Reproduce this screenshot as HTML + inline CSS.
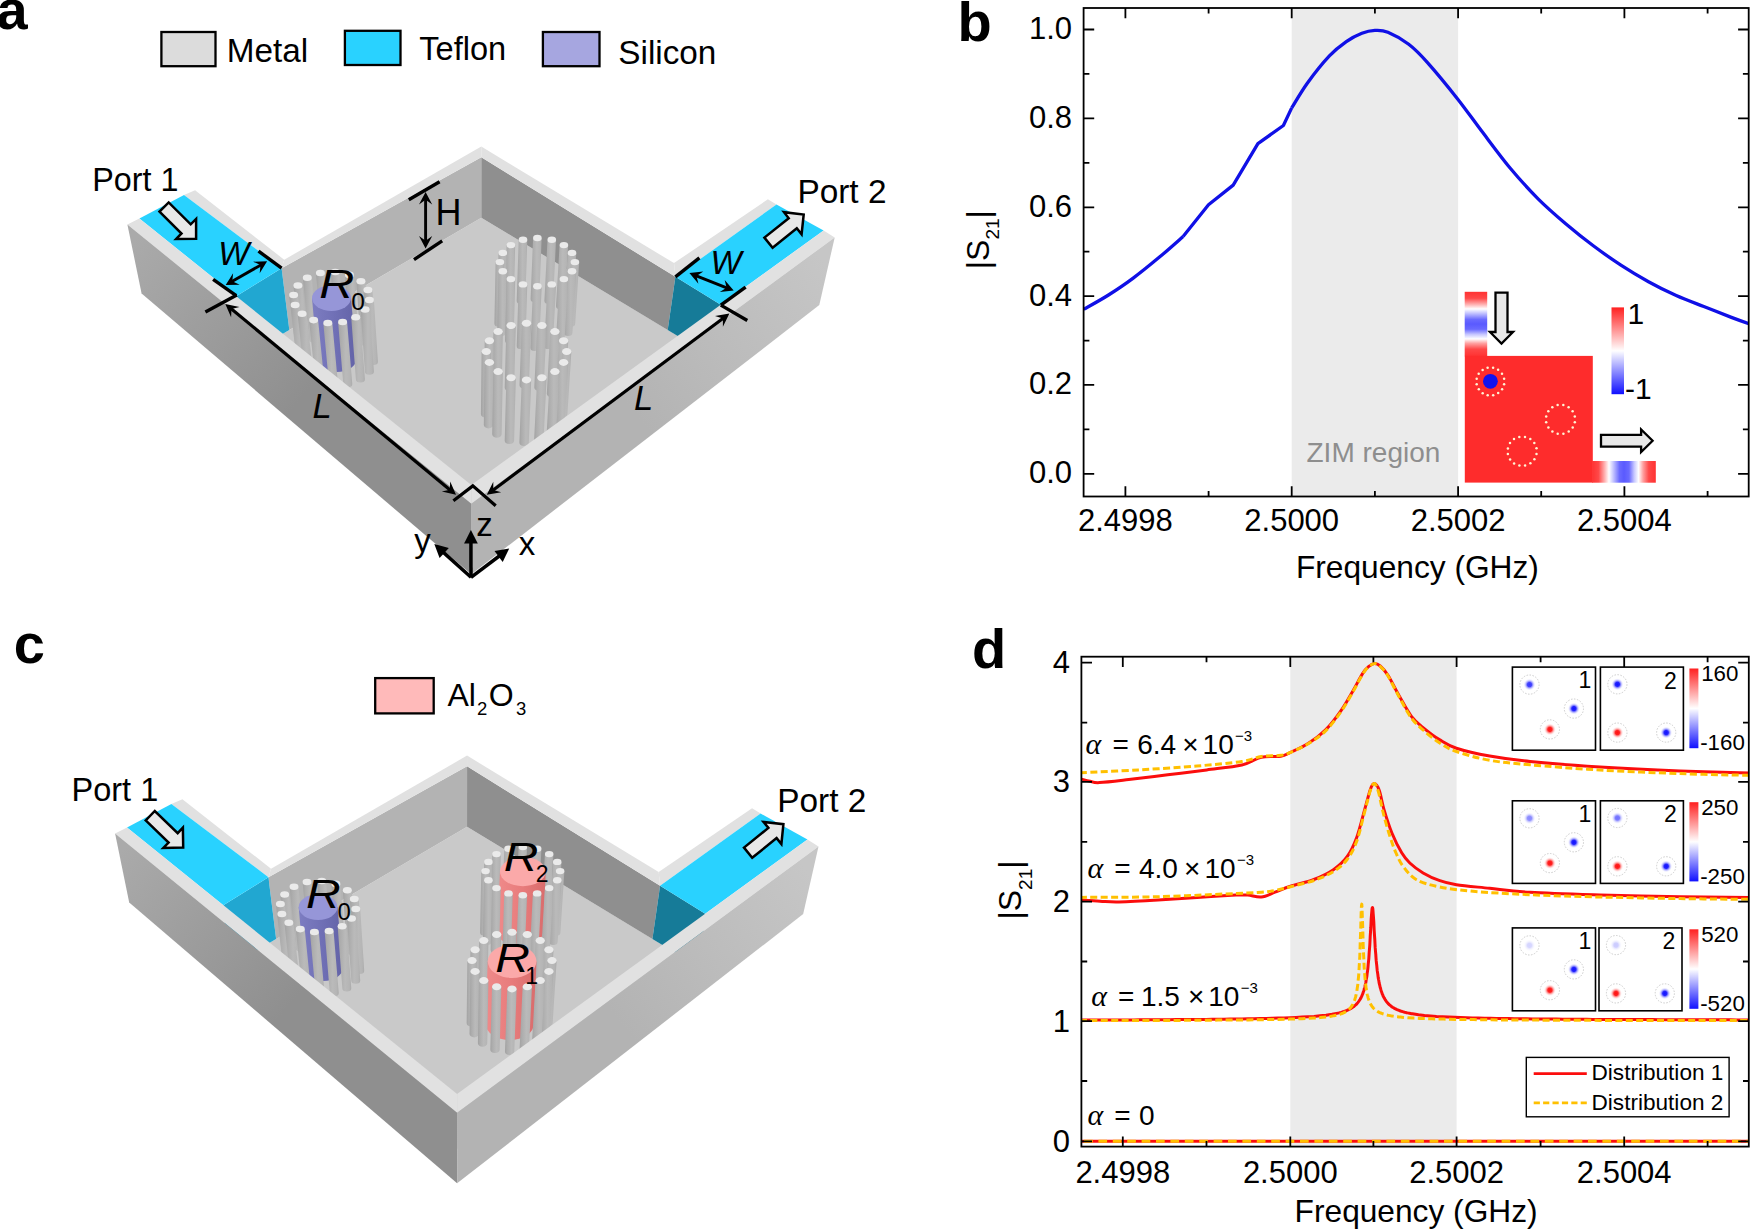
<!DOCTYPE html>
<html><head><meta charset="utf-8"><title>Figure</title>
<style>
html,body{margin:0;padding:0;background:#fff;overflow:hidden;width:1751px;height:1231px}
svg{display:block}
text{font-family:"Liberation Sans",Arial,sans-serif;fill:#000}
.it{font-style:italic}
.ser{font-family:"Liberation Serif","DejaVu Serif",serif;font-style:italic}
</style></head><body>
<svg width="1751" height="1231" viewBox="0 0 1751 1231">
<defs>
<linearGradient id="gm" x1="0" x2="1" y1="0" y2="0"><stop offset="0" stop-color="#a2a2a2"/><stop offset="0.2" stop-color="#adadad"/><stop offset="0.55" stop-color="#bababa"/><stop offset="0.85" stop-color="#b5b5b5"/><stop offset="1" stop-color="#ababab"/></linearGradient>
<linearGradient id="gs" x1="0" x2="1" y1="0" y2="0"><stop offset="0" stop-color="#7d7dc1"/><stop offset="0.5" stop-color="#7070b6"/><stop offset="1" stop-color="#6363a7"/></linearGradient>
<linearGradient id="gp" x1="0" x2="1" y1="0" y2="0"><stop offset="0" stop-color="#ef8a8a"/><stop offset="0.5" stop-color="#e87c7c"/><stop offset="1" stop-color="#d96c6c"/></linearGradient>
<linearGradient id="gl" gradientUnits="userSpaceOnUse" x1="127" y1="250" x2="300" y2="400"><stop offset="0" stop-color="#aaaaaa"/><stop offset="1" stop-color="#8f8f8f"/></linearGradient>
<linearGradient id="gr" gradientUnits="userSpaceOnUse" x1="640" y1="420" x2="830" y2="270"><stop offset="0" stop-color="#b3b3b3"/><stop offset="1" stop-color="#c6c6c6"/></linearGradient>
<linearGradient id="cb" x1="0" x2="0" y1="0" y2="1"><stop offset="0" stop-color="#ff2020"/><stop offset="0.5" stop-color="#ffffff"/><stop offset="1" stop-color="#1010ff"/></linearGradient>
<linearGradient id="p1" x1="0" x2="0" y1="0" y2="1"><stop offset="0" stop-color="#ff3232"/><stop offset="0.1" stop-color="#ff4848"/><stop offset="0.19" stop-color="#ffaaaa"/><stop offset="0.265" stop-color="#ffffff"/><stop offset="0.33" stop-color="#c6c6ff"/><stop offset="0.43" stop-color="#6a6aff"/><stop offset="0.5" stop-color="#5a5aff"/><stop offset="0.58" stop-color="#6a6aff"/><stop offset="0.66" stop-color="#c6c6ff"/><stop offset="0.73" stop-color="#ffffff"/><stop offset="0.80" stop-color="#ffa0a0"/><stop offset="0.89" stop-color="#ff4848"/><stop offset="1" stop-color="#ff3232"/></linearGradient>
<linearGradient id="p2" x1="0" x2="1" y1="0" y2="0"><stop offset="0" stop-color="#ff3232"/><stop offset="0.1" stop-color="#ff4848"/><stop offset="0.19" stop-color="#ffaaaa"/><stop offset="0.265" stop-color="#ffffff"/><stop offset="0.33" stop-color="#c6c6ff"/><stop offset="0.43" stop-color="#6a6aff"/><stop offset="0.5" stop-color="#5a5aff"/><stop offset="0.58" stop-color="#6a6aff"/><stop offset="0.66" stop-color="#c6c6ff"/><stop offset="0.73" stop-color="#ffffff"/><stop offset="0.80" stop-color="#ffa0a0"/><stop offset="0.89" stop-color="#ff4848"/><stop offset="1" stop-color="#ff3232"/></linearGradient>
<radialGradient id="rb"><stop offset="0" stop-color="#1010ff"/><stop offset="0.35" stop-color="#2424ff"/><stop offset="1" stop-color="#ffffff" stop-opacity="0"/></radialGradient>
<radialGradient id="rr"><stop offset="0" stop-color="#ff1010"/><stop offset="0.35" stop-color="#ff2424"/><stop offset="1" stop-color="#ffffff" stop-opacity="0"/></radialGradient>
</defs>
<rect width="1751" height="1231" fill="#fff"/>

<g id="panel-a">
<polygon points="481.3,217.7 241.0,358.3 471.3,540.0 716.0,359.0" fill="#c9c9c9"/>
<polygon points="281.6,268.2 481.3,157.3 481.3,217.7 289.3,330.0" fill="#b3b3b3"/>
<polygon points="481.3,157.3 675.4,276.8 667.7,329.9 481.3,217.7" fill="#8f8f8f"/>
<polygon points="236.2,296.2 281.6,268.2 289.3,330.0 241.0,358.3" fill="#21a7d1"/>
<polygon points="675.4,276.8 720.8,304.7 716.0,359.0 667.7,329.9" fill="#167b98"/>
<polygon points="195.1,190.3 184.0,194.9 281.6,268.2 284.2,259.7" fill="#e1e1e1"/>
<polygon points="284.2,259.7 281.6,268.2 481.3,157.3 481.3,146.6" fill="#e1e1e1"/>
<polygon points="481.3,146.6 481.3,157.3 675.4,276.8 674.0,263.1" fill="#e1e1e1"/>
<polygon points="674.0,263.1 675.4,276.8 776.5,204.5 767.9,199.3" fill="#e1e1e1"/>
<polygon points="139.4,218.5 184.0,194.9 281.6,268.2 236.2,296.2" fill="#29d2ff"/>
<polygon points="675.4,276.8 776.5,204.5 823.6,230.5 720.8,304.7" fill="#29d2ff"/>
<path d="M533.1,238.0 L530.6,299.0 A4.3,3.2 0 0 0 539.2,299.0 L541.7,238.0 Z" fill="url(#gm)"/><ellipse cx="537.4" cy="238.0" rx="4.3" ry="3.2" fill="#eaeaea"/>
<path d="M547.5,239.8 L544.4,300.8 A4.3,3.2 0 0 0 553.0,300.8 L556.1,239.8 Z" fill="url(#gm)"/><ellipse cx="551.8" cy="239.8" rx="4.3" ry="3.2" fill="#eaeaea"/>
<path d="M518.7,239.8 L516.7,300.8 A4.3,3.2 0 0 0 525.3,300.8 L527.3,239.8 Z" fill="url(#gm)"/><ellipse cx="523.0" cy="239.8" rx="4.3" ry="3.2" fill="#eaeaea"/>
<path d="M559.6,245.1 L556.0,306.1 A4.3,3.2 0 0 0 564.6,306.1 L568.2,245.1 Z" fill="url(#gm)"/><ellipse cx="563.9" cy="245.1" rx="4.3" ry="3.2" fill="#eaeaea"/>
<path d="M506.6,245.1 L505.0,306.1 A4.3,3.2 0 0 0 513.6,306.1 L515.2,245.1 Z" fill="url(#gm)"/><ellipse cx="510.9" cy="245.1" rx="4.3" ry="3.2" fill="#eaeaea"/>
<path d="M567.7,252.9 L563.8,314.0 A4.3,3.2 0 0 0 572.4,314.0 L576.3,252.9 Z" fill="url(#gm)"/><ellipse cx="572.0" cy="252.9" rx="4.3" ry="3.2" fill="#eaeaea"/>
<path d="M498.5,252.9 L497.2,314.0 A4.3,3.2 0 0 0 505.8,314.0 L507.1,252.9 Z" fill="url(#gm)"/><ellipse cx="502.8" cy="252.9" rx="4.3" ry="3.2" fill="#eaeaea"/>
<path d="M570.6,262.1 L566.6,323.4 A4.3,3.2 0 0 0 575.2,323.4 L579.2,262.1 Z" fill="url(#gm)"/><ellipse cx="574.9" cy="262.1" rx="4.3" ry="3.2" fill="#eaeaea"/>
<path d="M495.6,262.1 L494.4,323.4 A4.3,3.2 0 0 0 503.0,323.4 L504.2,262.1 Z" fill="url(#gm)"/><ellipse cx="499.9" cy="262.1" rx="4.3" ry="3.2" fill="#eaeaea"/>
<path d="M498.5,271.3 L497.2,332.7 A4.3,3.2 0 0 0 505.8,332.7 L507.1,271.3 Z" fill="url(#gm)"/><ellipse cx="502.8" cy="271.3" rx="4.3" ry="3.2" fill="#eaeaea"/>
<path d="M567.7,271.3 L563.8,332.7 A4.3,3.2 0 0 0 572.4,332.7 L576.3,271.3 Z" fill="url(#gm)"/><ellipse cx="572.0" cy="271.3" rx="4.3" ry="3.2" fill="#eaeaea"/>
<path d="M330.7,272.0 L335.9,333.4 A4.5,3.3 0 0 0 344.9,333.4 L339.7,272.0 Z" fill="url(#gm)"/><ellipse cx="335.2" cy="272.0" rx="4.5" ry="3.3" fill="#eaeaea"/>
<path d="M315.9,273.0 L321.7,334.4 A4.5,3.3 0 0 0 330.7,334.4 L324.9,273.0 Z" fill="url(#gm)"/><ellipse cx="320.4" cy="273.0" rx="4.5" ry="3.3" fill="#eaeaea"/>
<path d="M344.9,274.9 L349.6,336.3 A4.5,3.3 0 0 0 358.6,336.3 L353.9,274.9 Z" fill="url(#gm)"/><ellipse cx="349.4" cy="274.9" rx="4.5" ry="3.3" fill="#eaeaea"/>
<path d="M302.8,277.7 L309.1,339.2 A4.5,3.3 0 0 0 318.1,339.2 L311.8,277.7 Z" fill="url(#gm)"/><ellipse cx="307.3" cy="277.7" rx="4.5" ry="3.3" fill="#eaeaea"/>
<path d="M559.6,279.1 L555.9,340.6 A4.3,3.2 0 0 0 564.5,340.6 L568.2,279.1 Z" fill="url(#gm)"/><ellipse cx="563.9" cy="279.1" rx="4.3" ry="3.2" fill="#eaeaea"/>
<path d="M506.6,279.1 L505.0,340.6 A4.3,3.2 0 0 0 513.6,340.6 L515.2,279.1 Z" fill="url(#gm)"/><ellipse cx="510.9" cy="279.1" rx="4.3" ry="3.2" fill="#eaeaea"/>
<path d="M356.4,281.2 L360.7,342.7 A4.5,3.3 0 0 0 369.7,342.7 L365.4,281.2 Z" fill="url(#gm)"/><ellipse cx="360.9" cy="281.2" rx="4.5" ry="3.3" fill="#eaeaea"/>
<path d="M547.5,284.4 L544.2,345.9 A4.3,3.2 0 0 0 552.8,345.9 L556.1,284.4 Z" fill="url(#gm)"/><ellipse cx="551.8" cy="284.4" rx="4.3" ry="3.2" fill="#eaeaea"/>
<path d="M518.7,284.4 L516.7,345.9 A4.3,3.2 0 0 0 525.3,345.9 L527.3,284.4 Z" fill="url(#gm)"/><ellipse cx="523.0" cy="284.4" rx="4.3" ry="3.2" fill="#eaeaea"/>
<path d="M293.4,285.5 L300.1,347.0 A4.5,3.3 0 0 0 309.1,347.0 L302.4,285.5 Z" fill="url(#gm)"/><ellipse cx="297.9" cy="285.5" rx="4.5" ry="3.3" fill="#eaeaea"/>
<path d="M533.1,286.2 L530.4,347.8 A4.3,3.2 0 0 0 539.0,347.8 L541.7,286.2 Z" fill="url(#gm)"/><ellipse cx="537.4" cy="286.2" rx="4.3" ry="3.2" fill="#eaeaea"/>
<path d="M363.4,290.0 L367.5,351.6 A4.5,3.3 0 0 0 376.5,351.6 L372.4,290.0 Z" fill="url(#gm)"/><ellipse cx="367.9" cy="290.0" rx="4.5" ry="3.3" fill="#eaeaea"/>
<path d="M289.1,295.0 L296.1,356.7 A4.5,3.3 0 0 0 305.1,356.7 L298.1,295.0 Z" fill="url(#gm)"/><ellipse cx="293.6" cy="295.0" rx="4.5" ry="3.3" fill="#eaeaea"/>
<path d="M312.0,298.1 L317.4,359.1 A19.5,12.8 0 0 0 356.4,359.1 L351.0,298.1 Z" fill="url(#gs)"/><ellipse cx="331.5" cy="298.1" rx="19.5" ry="12.8" fill="#9696d8"/>
<path d="M364.9,300.0 L368.9,361.7 A4.5,3.3 0 0 0 377.9,361.7 L373.9,300.0 Z" fill="url(#gm)"/><ellipse cx="369.4" cy="300.0" rx="4.5" ry="3.3" fill="#eaeaea"/>
<path d="M290.6,305.0 L297.6,366.8 A4.5,3.3 0 0 0 306.6,366.8 L299.6,305.0 Z" fill="url(#gm)"/><ellipse cx="295.1" cy="305.0" rx="4.5" ry="3.3" fill="#eaeaea"/>
<path d="M360.6,309.5 L364.9,371.4 A4.5,3.3 0 0 0 373.9,371.4 L369.6,309.5 Z" fill="url(#gm)"/><ellipse cx="365.1" cy="309.5" rx="4.5" ry="3.3" fill="#eaeaea"/>
<path d="M297.6,313.8 L304.4,375.7 A4.5,3.3 0 0 0 313.4,375.7 L306.6,313.8 Z" fill="url(#gm)"/><ellipse cx="302.1" cy="313.8" rx="4.5" ry="3.3" fill="#eaeaea"/>
<path d="M351.2,317.3 L355.9,379.2 A4.5,3.3 0 0 0 364.9,379.2 L360.2,317.3 Z" fill="url(#gm)"/><ellipse cx="355.7" cy="317.3" rx="4.5" ry="3.3" fill="#eaeaea"/>
<path d="M309.1,320.1 L315.4,382.1 A4.5,3.3 0 0 0 324.4,382.1 L318.1,320.1 Z" fill="url(#gm)"/><ellipse cx="313.6" cy="320.1" rx="4.5" ry="3.3" fill="#eaeaea"/>
<path d="M338.1,322.0 L343.3,384.0 A4.5,3.3 0 0 0 352.3,384.0 L347.1,322.0 Z" fill="url(#gm)"/><ellipse cx="342.6" cy="322.0" rx="4.5" ry="3.3" fill="#eaeaea"/>
<path d="M323.3,323.0 L329.1,385.0 A4.5,3.3 0 0 0 338.1,385.0 L332.3,323.0 Z" fill="url(#gm)"/><ellipse cx="327.8" cy="323.0" rx="4.5" ry="3.3" fill="#eaeaea"/>
<path d="M521.8,323.3 L519.5,385.3 A4.7,3.5 0 0 0 528.9,385.3 L531.2,323.3 Z" fill="url(#gm)"/><ellipse cx="526.5" cy="323.3" rx="4.7" ry="3.5" fill="#eaeaea"/>
<path d="M537.2,325.5 L534.3,387.5 A4.7,3.5 0 0 0 543.7,387.5 L546.6,325.5 Z" fill="url(#gm)"/><ellipse cx="541.9" cy="325.5" rx="4.7" ry="3.5" fill="#eaeaea"/>
<path d="M506.4,325.5 L504.7,387.5 A4.7,3.5 0 0 0 514.1,387.5 L515.8,325.5 Z" fill="url(#gm)"/><ellipse cx="511.1" cy="325.5" rx="4.7" ry="3.5" fill="#eaeaea"/>
<path d="M550.2,331.6 L546.8,393.7 A4.7,3.5 0 0 0 556.2,393.7 L559.6,331.6 Z" fill="url(#gm)"/><ellipse cx="554.9" cy="331.6" rx="4.7" ry="3.5" fill="#eaeaea"/>
<path d="M493.4,331.6 L492.2,393.7 A4.7,3.5 0 0 0 501.6,393.7 L502.8,331.6 Z" fill="url(#gm)"/><ellipse cx="498.1" cy="331.6" rx="4.7" ry="3.5" fill="#eaeaea"/>
<path d="M484.7,340.8 L483.9,403.0 A4.7,3.5 0 0 0 493.3,403.0 L494.1,340.8 Z" fill="url(#gm)"/><ellipse cx="489.4" cy="340.8" rx="4.7" ry="3.5" fill="#eaeaea"/>
<path d="M558.9,340.8 L555.1,403.0 A4.7,3.5 0 0 0 564.5,403.0 L568.3,340.8 Z" fill="url(#gm)"/><ellipse cx="563.6" cy="340.8" rx="4.7" ry="3.5" fill="#eaeaea"/>
<path d="M562.0,351.6 L558.0,414.0 A4.7,3.5 0 0 0 567.4,414.0 L571.4,351.6 Z" fill="url(#gm)"/><ellipse cx="566.7" cy="351.6" rx="4.7" ry="3.5" fill="#eaeaea"/>
<path d="M481.6,351.6 L480.9,414.0 A4.7,3.5 0 0 0 490.3,414.0 L491.0,351.6 Z" fill="url(#gm)"/><ellipse cx="486.3" cy="351.6" rx="4.7" ry="3.5" fill="#eaeaea"/>
<path d="M558.9,362.4 L555.0,424.9 A4.7,3.5 0 0 0 564.4,424.9 L568.3,362.4 Z" fill="url(#gm)"/><ellipse cx="563.6" cy="362.4" rx="4.7" ry="3.5" fill="#eaeaea"/>
<path d="M484.7,362.4 L483.8,424.9 A4.7,3.5 0 0 0 493.2,424.9 L494.1,362.4 Z" fill="url(#gm)"/><ellipse cx="489.4" cy="362.4" rx="4.7" ry="3.5" fill="#eaeaea"/>
<path d="M550.2,371.6 L546.6,434.2 A4.7,3.5 0 0 0 556.0,434.2 L559.6,371.6 Z" fill="url(#gm)"/><ellipse cx="554.9" cy="371.6" rx="4.7" ry="3.5" fill="#eaeaea"/>
<path d="M493.4,371.6 L492.2,434.2 A4.7,3.5 0 0 0 501.6,434.2 L502.8,371.6 Z" fill="url(#gm)"/><ellipse cx="498.1" cy="371.6" rx="4.7" ry="3.5" fill="#eaeaea"/>
<path d="M537.2,377.7 L534.1,440.4 A4.7,3.5 0 0 0 543.5,440.4 L546.6,377.7 Z" fill="url(#gm)"/><ellipse cx="541.9" cy="377.7" rx="4.7" ry="3.5" fill="#eaeaea"/>
<path d="M506.4,377.7 L504.7,440.4 A4.7,3.5 0 0 0 514.1,440.4 L515.8,377.7 Z" fill="url(#gm)"/><ellipse cx="511.1" cy="377.7" rx="4.7" ry="3.5" fill="#eaeaea"/>
<path d="M521.8,379.9 L519.4,442.6 A4.7,3.5 0 0 0 528.8,442.6 L531.2,379.9 Z" fill="url(#gm)"/><ellipse cx="526.5" cy="379.9" rx="4.7" ry="3.5" fill="#eaeaea"/>
<polygon points="127.4,224.5 139.4,218.5 471.3,484.9 471.3,503.7" fill="#e1e1e1"/>
<polygon points="471.3,503.7 471.3,484.9 823.6,230.5 834.7,237.4" fill="#e1e1e1"/>
<polygon points="127.4,224.5 471.3,503.7 471.3,574.3 141.6,293.4" fill="url(#gl)"/>
<polygon points="471.3,503.7 834.7,237.4 819.3,305.1 471.3,574.3" fill="url(#gr)"/>
</g>
<g id="panel-c" transform="translate(457.1,609) scale(0.9945,1) translate(-471.3,0)">
<polygon points="481.3,217.7 241.0,358.3 471.3,540.0 716.0,359.0" fill="#c9c9c9"/>
<polygon points="281.6,268.2 481.3,157.3 481.3,217.7 289.3,330.0" fill="#b3b3b3"/>
<polygon points="481.3,157.3 675.4,276.8 667.7,329.9 481.3,217.7" fill="#8f8f8f"/>
<polygon points="236.2,296.2 281.6,268.2 289.3,330.0 241.0,358.3" fill="#21a7d1"/>
<polygon points="675.4,276.8 720.8,304.7 716.0,359.0 667.7,329.9" fill="#167b98"/>
<polygon points="195.1,190.3 184.0,194.9 281.6,268.2 284.2,259.7" fill="#e1e1e1"/>
<polygon points="284.2,259.7 281.6,268.2 481.3,157.3 481.3,146.6" fill="#e1e1e1"/>
<polygon points="481.3,146.6 481.3,157.3 675.4,276.8 674.0,263.1" fill="#e1e1e1"/>
<polygon points="674.0,263.1 675.4,276.8 776.5,204.5 767.9,199.3" fill="#e1e1e1"/>
<polygon points="139.4,218.5 184.0,194.9 281.6,268.2 236.2,296.2" fill="#29d2ff"/>
<polygon points="675.4,276.8 776.5,204.5 823.6,230.5 720.8,304.7" fill="#29d2ff"/>
<path d="M533.1,238.0 L530.6,299.0 A4.3,3.2 0 0 0 539.2,299.0 L541.7,238.0 Z" fill="url(#gm)"/><ellipse cx="537.4" cy="238.0" rx="4.3" ry="3.2" fill="#eaeaea"/>
<path d="M547.5,239.8 L544.4,300.8 A4.3,3.2 0 0 0 553.0,300.8 L556.1,239.8 Z" fill="url(#gm)"/><ellipse cx="551.8" cy="239.8" rx="4.3" ry="3.2" fill="#eaeaea"/>
<path d="M518.7,239.8 L516.7,300.8 A4.3,3.2 0 0 0 525.3,300.8 L527.3,239.8 Z" fill="url(#gm)"/><ellipse cx="523.0" cy="239.8" rx="4.3" ry="3.2" fill="#eaeaea"/>
<path d="M559.6,245.1 L556.0,306.1 A4.3,3.2 0 0 0 564.6,306.1 L568.2,245.1 Z" fill="url(#gm)"/><ellipse cx="563.9" cy="245.1" rx="4.3" ry="3.2" fill="#eaeaea"/>
<path d="M506.6,245.1 L505.0,306.1 A4.3,3.2 0 0 0 513.6,306.1 L515.2,245.1 Z" fill="url(#gm)"/><ellipse cx="510.9" cy="245.1" rx="4.3" ry="3.2" fill="#eaeaea"/>
<path d="M567.7,252.9 L563.8,314.0 A4.3,3.2 0 0 0 572.4,314.0 L576.3,252.9 Z" fill="url(#gm)"/><ellipse cx="572.0" cy="252.9" rx="4.3" ry="3.2" fill="#eaeaea"/>
<path d="M498.5,252.9 L497.2,314.0 A4.3,3.2 0 0 0 505.8,314.0 L507.1,252.9 Z" fill="url(#gm)"/><ellipse cx="502.8" cy="252.9" rx="4.3" ry="3.2" fill="#eaeaea"/>
<path d="M514.4,262.6 L511.9,322.6 A23.0,14.6 0 0 0 557.9,322.6 L560.4,262.6 Z" fill="url(#gp)"/><ellipse cx="537.4" cy="262.6" rx="23.0" ry="14.6" fill="#fba9a9"/>
<path d="M570.6,262.1 L566.6,323.4 A4.3,3.2 0 0 0 575.2,323.4 L579.2,262.1 Z" fill="url(#gm)"/><ellipse cx="574.9" cy="262.1" rx="4.3" ry="3.2" fill="#eaeaea"/>
<path d="M495.6,262.1 L494.4,323.4 A4.3,3.2 0 0 0 503.0,323.4 L504.2,262.1 Z" fill="url(#gm)"/><ellipse cx="499.9" cy="262.1" rx="4.3" ry="3.2" fill="#eaeaea"/>
<path d="M498.5,271.3 L497.2,332.7 A4.3,3.2 0 0 0 505.8,332.7 L507.1,271.3 Z" fill="url(#gm)"/><ellipse cx="502.8" cy="271.3" rx="4.3" ry="3.2" fill="#eaeaea"/>
<path d="M567.7,271.3 L563.8,332.7 A4.3,3.2 0 0 0 572.4,332.7 L576.3,271.3 Z" fill="url(#gm)"/><ellipse cx="572.0" cy="271.3" rx="4.3" ry="3.2" fill="#eaeaea"/>
<path d="M330.7,272.0 L335.9,333.4 A4.5,3.3 0 0 0 344.9,333.4 L339.7,272.0 Z" fill="url(#gm)"/><ellipse cx="335.2" cy="272.0" rx="4.5" ry="3.3" fill="#eaeaea"/>
<path d="M315.9,273.0 L321.7,334.4 A4.5,3.3 0 0 0 330.7,334.4 L324.9,273.0 Z" fill="url(#gm)"/><ellipse cx="320.4" cy="273.0" rx="4.5" ry="3.3" fill="#eaeaea"/>
<path d="M344.9,274.9 L349.6,336.3 A4.5,3.3 0 0 0 358.6,336.3 L353.9,274.9 Z" fill="url(#gm)"/><ellipse cx="349.4" cy="274.9" rx="4.5" ry="3.3" fill="#eaeaea"/>
<path d="M302.8,277.7 L309.1,339.2 A4.5,3.3 0 0 0 318.1,339.2 L311.8,277.7 Z" fill="url(#gm)"/><ellipse cx="307.3" cy="277.7" rx="4.5" ry="3.3" fill="#eaeaea"/>
<path d="M559.6,279.1 L555.9,340.6 A4.3,3.2 0 0 0 564.5,340.6 L568.2,279.1 Z" fill="url(#gm)"/><ellipse cx="563.9" cy="279.1" rx="4.3" ry="3.2" fill="#eaeaea"/>
<path d="M506.6,279.1 L505.0,340.6 A4.3,3.2 0 0 0 513.6,340.6 L515.2,279.1 Z" fill="url(#gm)"/><ellipse cx="510.9" cy="279.1" rx="4.3" ry="3.2" fill="#eaeaea"/>
<path d="M356.4,281.2 L360.7,342.7 A4.5,3.3 0 0 0 369.7,342.7 L365.4,281.2 Z" fill="url(#gm)"/><ellipse cx="360.9" cy="281.2" rx="4.5" ry="3.3" fill="#eaeaea"/>
<path d="M547.5,284.4 L544.2,345.9 A4.3,3.2 0 0 0 552.8,345.9 L556.1,284.4 Z" fill="url(#gm)"/><ellipse cx="551.8" cy="284.4" rx="4.3" ry="3.2" fill="#eaeaea"/>
<path d="M518.7,284.4 L516.7,345.9 A4.3,3.2 0 0 0 525.3,345.9 L527.3,284.4 Z" fill="url(#gm)"/><ellipse cx="523.0" cy="284.4" rx="4.3" ry="3.2" fill="#eaeaea"/>
<path d="M293.4,285.5 L300.1,347.0 A4.5,3.3 0 0 0 309.1,347.0 L302.4,285.5 Z" fill="url(#gm)"/><ellipse cx="297.9" cy="285.5" rx="4.5" ry="3.3" fill="#eaeaea"/>
<path d="M533.1,286.2 L530.4,347.8 A4.3,3.2 0 0 0 539.0,347.8 L541.7,286.2 Z" fill="url(#gm)"/><ellipse cx="537.4" cy="286.2" rx="4.3" ry="3.2" fill="#eaeaea"/>
<path d="M363.4,290.0 L367.5,351.6 A4.5,3.3 0 0 0 376.5,351.6 L372.4,290.0 Z" fill="url(#gm)"/><ellipse cx="367.9" cy="290.0" rx="4.5" ry="3.3" fill="#eaeaea"/>
<path d="M289.1,295.0 L296.1,356.7 A4.5,3.3 0 0 0 305.1,356.7 L298.1,295.0 Z" fill="url(#gm)"/><ellipse cx="293.6" cy="295.0" rx="4.5" ry="3.3" fill="#eaeaea"/>
<path d="M312.0,298.1 L317.4,359.1 A19.5,12.8 0 0 0 356.4,359.1 L351.0,298.1 Z" fill="url(#gs)"/><ellipse cx="331.5" cy="298.1" rx="19.5" ry="12.8" fill="#9696d8"/>
<path d="M364.9,300.0 L368.9,361.7 A4.5,3.3 0 0 0 377.9,361.7 L373.9,300.0 Z" fill="url(#gm)"/><ellipse cx="369.4" cy="300.0" rx="4.5" ry="3.3" fill="#eaeaea"/>
<path d="M290.6,305.0 L297.6,366.8 A4.5,3.3 0 0 0 306.6,366.8 L299.6,305.0 Z" fill="url(#gm)"/><ellipse cx="295.1" cy="305.0" rx="4.5" ry="3.3" fill="#eaeaea"/>
<path d="M360.6,309.5 L364.9,371.4 A4.5,3.3 0 0 0 373.9,371.4 L369.6,309.5 Z" fill="url(#gm)"/><ellipse cx="365.1" cy="309.5" rx="4.5" ry="3.3" fill="#eaeaea"/>
<path d="M297.6,313.8 L304.4,375.7 A4.5,3.3 0 0 0 313.4,375.7 L306.6,313.8 Z" fill="url(#gm)"/><ellipse cx="302.1" cy="313.8" rx="4.5" ry="3.3" fill="#eaeaea"/>
<path d="M351.2,317.3 L355.9,379.2 A4.5,3.3 0 0 0 364.9,379.2 L360.2,317.3 Z" fill="url(#gm)"/><ellipse cx="355.7" cy="317.3" rx="4.5" ry="3.3" fill="#eaeaea"/>
<path d="M309.1,320.1 L315.4,382.1 A4.5,3.3 0 0 0 324.4,382.1 L318.1,320.1 Z" fill="url(#gm)"/><ellipse cx="313.6" cy="320.1" rx="4.5" ry="3.3" fill="#eaeaea"/>
<path d="M338.1,322.0 L343.3,384.0 A4.5,3.3 0 0 0 352.3,384.0 L347.1,322.0 Z" fill="url(#gm)"/><ellipse cx="342.6" cy="322.0" rx="4.5" ry="3.3" fill="#eaeaea"/>
<path d="M323.3,323.0 L329.1,385.0 A4.5,3.3 0 0 0 338.1,385.0 L332.3,323.0 Z" fill="url(#gm)"/><ellipse cx="327.8" cy="323.0" rx="4.5" ry="3.3" fill="#eaeaea"/>
<path d="M521.8,323.3 L519.5,385.3 A4.7,3.5 0 0 0 528.9,385.3 L531.2,323.3 Z" fill="url(#gm)"/><ellipse cx="526.5" cy="323.3" rx="4.7" ry="3.5" fill="#eaeaea"/>
<path d="M537.2,325.5 L534.3,387.5 A4.7,3.5 0 0 0 543.7,387.5 L546.6,325.5 Z" fill="url(#gm)"/><ellipse cx="541.9" cy="325.5" rx="4.7" ry="3.5" fill="#eaeaea"/>
<path d="M506.4,325.5 L504.7,387.5 A4.7,3.5 0 0 0 514.1,387.5 L515.8,325.5 Z" fill="url(#gm)"/><ellipse cx="511.1" cy="325.5" rx="4.7" ry="3.5" fill="#eaeaea"/>
<path d="M550.2,331.6 L546.8,393.7 A4.7,3.5 0 0 0 556.2,393.7 L559.6,331.6 Z" fill="url(#gm)"/><ellipse cx="554.9" cy="331.6" rx="4.7" ry="3.5" fill="#eaeaea"/>
<path d="M493.4,331.6 L492.2,393.7 A4.7,3.5 0 0 0 501.6,393.7 L502.8,331.6 Z" fill="url(#gm)"/><ellipse cx="498.1" cy="331.6" rx="4.7" ry="3.5" fill="#eaeaea"/>
<path d="M484.7,340.8 L483.9,403.0 A4.7,3.5 0 0 0 493.3,403.0 L494.1,340.8 Z" fill="url(#gm)"/><ellipse cx="489.4" cy="340.8" rx="4.7" ry="3.5" fill="#eaeaea"/>
<path d="M558.9,340.8 L555.1,403.0 A4.7,3.5 0 0 0 564.5,403.0 L568.3,340.8 Z" fill="url(#gm)"/><ellipse cx="563.6" cy="340.8" rx="4.7" ry="3.5" fill="#eaeaea"/>
<path d="M562.0,351.6 L558.0,414.0 A4.7,3.5 0 0 0 567.4,414.0 L571.4,351.6 Z" fill="url(#gm)"/><ellipse cx="566.7" cy="351.6" rx="4.7" ry="3.5" fill="#eaeaea"/>
<path d="M481.6,351.6 L480.9,414.0 A4.7,3.5 0 0 0 490.3,414.0 L491.0,351.6 Z" fill="url(#gm)"/><ellipse cx="486.3" cy="351.6" rx="4.7" ry="3.5" fill="#eaeaea"/>
<path d="M502.1,352.3 L499.8,414.3 A24.5,16.6 0 0 0 548.8,414.3 L551.1,352.3 Z" fill="url(#gp)"/><ellipse cx="526.6" cy="352.3" rx="24.5" ry="16.6" fill="#fba9a9"/>
<path d="M558.9,362.4 L555.0,424.9 A4.7,3.5 0 0 0 564.4,424.9 L568.3,362.4 Z" fill="url(#gm)"/><ellipse cx="563.6" cy="362.4" rx="4.7" ry="3.5" fill="#eaeaea"/>
<path d="M484.7,362.4 L483.8,424.9 A4.7,3.5 0 0 0 493.2,424.9 L494.1,362.4 Z" fill="url(#gm)"/><ellipse cx="489.4" cy="362.4" rx="4.7" ry="3.5" fill="#eaeaea"/>
<path d="M550.2,371.6 L546.6,434.2 A4.7,3.5 0 0 0 556.0,434.2 L559.6,371.6 Z" fill="url(#gm)"/><ellipse cx="554.9" cy="371.6" rx="4.7" ry="3.5" fill="#eaeaea"/>
<path d="M493.4,371.6 L492.2,434.2 A4.7,3.5 0 0 0 501.6,434.2 L502.8,371.6 Z" fill="url(#gm)"/><ellipse cx="498.1" cy="371.6" rx="4.7" ry="3.5" fill="#eaeaea"/>
<path d="M537.2,377.7 L534.1,440.4 A4.7,3.5 0 0 0 543.5,440.4 L546.6,377.7 Z" fill="url(#gm)"/><ellipse cx="541.9" cy="377.7" rx="4.7" ry="3.5" fill="#eaeaea"/>
<path d="M506.4,377.7 L504.7,440.4 A4.7,3.5 0 0 0 514.1,440.4 L515.8,377.7 Z" fill="url(#gm)"/><ellipse cx="511.1" cy="377.7" rx="4.7" ry="3.5" fill="#eaeaea"/>
<path d="M521.8,379.9 L519.4,442.6 A4.7,3.5 0 0 0 528.8,442.6 L531.2,379.9 Z" fill="url(#gm)"/><ellipse cx="526.5" cy="379.9" rx="4.7" ry="3.5" fill="#eaeaea"/>
<polygon points="127.4,224.5 139.4,218.5 471.3,484.9 471.3,503.7" fill="#e1e1e1"/>
<polygon points="471.3,503.7 471.3,484.9 823.6,230.5 834.7,237.4" fill="#e1e1e1"/>
<polygon points="127.4,224.5 471.3,503.7 471.3,574.3 141.6,293.4" fill="url(#gl)"/>
<polygon points="471.3,503.7 834.7,237.4 819.3,305.1 471.3,574.3" fill="url(#gr)"/>
</g>
<g id="anno-a">
<text x="-3.5" y="29.3" font-size="56" text-anchor="start" font-weight="bold">a</text>
<rect x="161.4" y="32.0" width="54.1" height="34.2" fill="#dcdcdc" stroke="#000" stroke-width="2.3"/>
<rect x="344.9" y="30.8" width="55.6" height="34.2" fill="#29d2ff" stroke="#000" stroke-width="2.3"/>
<rect x="542.9" y="32.0" width="56.6" height="34.2" fill="#a6a6e0" stroke="#000" stroke-width="2.3"/>
<text x="226.8" y="61.8" font-size="33.3" text-anchor="start" >Metal</text>
<text x="419.3" y="60.3" font-size="32.6" text-anchor="start" >Teflon</text>
<text x="618.3" y="63.6" font-size="33.3" text-anchor="start" >Silicon</text>
<text x="92.2" y="190.6" font-size="32.3" text-anchor="start" >Port 1</text>
<text x="797.4" y="202.8" font-size="33.4" text-anchor="start" >Port 2</text>
<polygon points="159.5,211.6 181.5,233.5 176.2,238.9 196.1,238.8 196.1,218.9 190.7,224.3 168.7,202.4" fill="#e8e8e8" stroke="#000" stroke-width="2.5" stroke-linejoin="miter"/>
<polygon points="772.6,247.8 796.8,228.3 801.6,234.3 803.7,214.5 784.0,212.2 788.7,218.2 764.4,237.6" fill="#e8e8e8" stroke="#000" stroke-width="2.5" stroke-linejoin="miter"/>
<line x1="258.5" y1="251.1" x2="281.6" y2="268.2" stroke="#000" stroke-width="3.4" />
<line x1="213.1" y1="279.4" x2="236.2" y2="295.6" stroke="#000" stroke-width="3.4" />
<line x1="236.8" y1="295.0" x2="205.4" y2="311.9" stroke="#000" stroke-width="3.4" />
<line x1="231.0" y1="282.0" x2="261.8" y2="264.4" stroke="#000" stroke-width="2.9" /><polygon points="267.1,261.3 259.7,273.2 260.5,265.1 253.1,261.7" fill="#000"/><polygon points="225.7,285.1 233.1,273.2 232.3,281.3 239.7,284.7" fill="#000"/>
<text x="218.3" y="265.1" font-size="33" class="it" text-anchor="start" >W</text>
<line x1="230.3" y1="308.0" x2="451.0" y2="490.7" stroke="#000" stroke-width="3.1" /><polygon points="456.0,494.8 441.8,491.6 449.8,489.7 450.2,481.4" fill="#000"/><polygon points="225.3,303.9 239.5,307.1 231.5,309.0 231.1,317.3" fill="#000"/>
<polyline points="453.4,500.8 472.8,485.9 495.7,505.7" fill="none" stroke="#000" stroke-width="3.2"/>
<line x1="724.2" y1="317.5" x2="492.0" y2="490.9" stroke="#000" stroke-width="3.1" /><polygon points="486.8,494.8 493.3,481.7 493.3,490.0 501.2,492.3" fill="#000"/><polygon points="729.4,313.6 722.9,326.7 722.9,318.4 715.0,316.1" fill="#000"/>
<line x1="720.8" y1="305.1" x2="747.3" y2="320.5" stroke="#000" stroke-width="3.4" />
<line x1="675.4" y1="276.8" x2="699.4" y2="257.9" stroke="#000" stroke-width="3.4" />
<line x1="720.8" y1="305.1" x2="745.6" y2="287.1" stroke="#000" stroke-width="3.4" />
<line x1="695.1" y1="275.3" x2="728.0" y2="288.3" stroke="#000" stroke-width="2.9" /><polygon points="733.7,290.5 719.8,292.1 726.6,287.7 724.7,279.9" fill="#000"/><polygon points="689.4,273.1 703.3,271.5 696.5,275.9 698.4,283.7" fill="#000"/>
<text x="710.6" y="274.0" font-size="33" class="it" text-anchor="start" >W</text>
<line x1="408.8" y1="199.7" x2="439.6" y2="181.7" stroke="#000" stroke-width="3.4" />
<line x1="414.0" y1="259.6" x2="442.2" y2="240.8" stroke="#000" stroke-width="3.4" />
<line x1="425.6" y1="198.2" x2="425.6" y2="242.2" stroke="#000" stroke-width="2.9" /><polygon points="425.6,248.5 419.0,236.0 425.6,240.8 432.2,236.0" fill="#000"/><polygon points="425.6,192.0 432.2,204.5 425.6,199.8 419.0,204.5" fill="#000"/>
<text x="435.6" y="225.0" font-size="36" text-anchor="start" >H</text>
<text x="312.6" y="418.0" font-size="34.5" class="it" text-anchor="start" >L</text>
<text x="634.0" y="410.2" font-size="34.5" class="it" text-anchor="start" >L</text>
<text class="it" font-size="41.5" transform="translate(319.3,297.8) scale(1.17,1)">R</text>
<text x="351.2" y="309.7" font-size="24.5" text-anchor="start" >0</text>
<line x1="471.0" y1="577.3" x2="470.9" y2="536.7" stroke="#000" stroke-width="3.5" /><polygon points="470.9,530.1 477.8,543.4 470.9,543.4 464.1,543.4" fill="#000"/>
<line x1="471.0" y1="577.3" x2="503.9" y2="552.5" stroke="#000" stroke-width="3.5" /><polygon points="509.2,548.5 502.7,562.0 498.6,556.5 494.5,551.0" fill="#000"/>
<line x1="471.0" y1="577.3" x2="439.2" y2="548.6" stroke="#000" stroke-width="3.5" /><polygon points="434.3,544.1 448.8,547.9 444.2,553.0 439.6,558.1" fill="#000"/>
<text x="476.3" y="535.7" font-size="33" text-anchor="start" >z</text>
<text x="518.8" y="554.5" font-size="33" text-anchor="start" >x</text>
<text x="414.2" y="552.4" font-size="33" text-anchor="start" >y</text>
</g>
<g id="anno-c">
<text x="13.8" y="663.3" font-size="56" text-anchor="start" font-weight="bold">c</text>
<rect x="375.2" y="678.1" width="58.5" height="35.3" fill="#ffbaba" stroke="#000" stroke-width="2.3"/>
<text y="706.3" font-size="32"><tspan x="447.4">Al</tspan><tspan font-size="18.5" x="476.9" y="714.6">2</tspan><tspan x="488.7" y="706.3">O</tspan><tspan font-size="18.5" x="516" y="714.9">3</tspan></text>
<text x="71.5" y="800.6" font-size="32.5" text-anchor="start" >Port 1</text>
<text x="777.2" y="812.2" font-size="33.4" text-anchor="start" >Port 2</text>
<polygon points="145.7,820.4 168.6,842.5 163.3,848.0 183.2,847.6 182.9,827.7 177.7,833.2 154.8,811.0" fill="#e8e8e8" stroke="#000" stroke-width="2.5" stroke-linejoin="miter"/>
<polygon points="752.2,857.8 776.6,838.1 781.4,844.0 783.4,824.2 763.6,822.0 768.4,827.9 744.0,847.6" fill="#e8e8e8" stroke="#000" stroke-width="2.5" stroke-linejoin="miter"/>
<text class="it" font-size="41.0" transform="translate(306.0,907.5) scale(1.17,1)">R</text>
<text x="337.5" y="919.6" font-size="24" text-anchor="start" >0</text>
<text class="it" font-size="41.0" transform="translate(503.8,870.5) scale(1.17,1)">R</text>
<text x="535.8" y="882.2" font-size="23" text-anchor="start" >2</text>
<text class="it" font-size="41.0" transform="translate(495.3,972.2) scale(1.17,1)">R</text>
<text x="525.3" y="983.9" font-size="23" text-anchor="start" >1</text>
</g>
<g id="panel-b">
<rect x="1291.7" y="8.0" width="166.4" height="488.5" fill="#ebebeb"/>
<text x="1306.5" y="462.2" font-size="28" text-anchor="start" style="fill:#8e8e8e">ZIM region</text>
<clipPath id="clipb"><rect x="1083.6" y="8.0" width="665.1" height="488.5"/></clipPath>
<g clip-path="url(#clipb)">
<path d="M1083.8,309.3 C1087.9,306.9 1100.3,300.2 1108.5,295.0 C1116.7,289.8 1124.8,284.4 1133.2,278.1 C1141.7,271.8 1150.9,264.2 1159.2,257.3 C1167.5,250.4 1179.1,240.0 1183.1,236.5" fill="none" stroke="#1010e6" stroke-width="3.3" stroke-linejoin="round" />
<polyline points="1183.1,236.5 1208.5,204.8 1233.2,185.1 1257.9,143.7 1283.4,125.5 1291.7,107.9" fill="none" stroke="#1010e6" stroke-width="3.3" stroke-linejoin="round" />
<path d="M1291.7,107.9 C1294.3,103.8 1301.0,91.9 1307.3,83.2 C1313.6,74.5 1322.9,62.8 1329.4,55.9 C1335.9,49.0 1340.9,45.4 1346.3,41.6 C1351.7,37.8 1357.1,35.2 1361.9,33.3 C1366.7,31.4 1370.6,30.6 1374.9,30.4 C1379.2,30.2 1382.3,29.9 1387.9,32.2 C1393.5,34.5 1402.1,39.2 1408.7,44.2 C1415.3,49.2 1419.1,53.1 1427.3,62.3 C1435.5,71.5 1448.8,87.7 1458.0,99.4 C1467.2,111.1 1474.0,121.1 1482.8,132.6 C1491.5,144.1 1501.3,157.5 1510.5,168.5 C1519.7,179.5 1528.9,189.6 1538.1,198.8 C1547.3,208.0 1556.5,215.9 1565.7,223.7 C1574.9,231.5 1584.1,238.9 1593.3,245.8 C1602.5,252.7 1611.7,259.1 1620.9,265.1 C1630.1,271.1 1639.3,276.6 1648.5,281.7 C1657.7,286.8 1667.0,291.4 1676.2,295.5 C1685.4,299.6 1694.6,302.9 1703.8,306.5 C1713.0,310.1 1723.7,314.4 1731.4,317.4 C1739.1,320.3 1746.9,323.1 1750.0,324.2" fill="none" stroke="#1010e6" stroke-width="3.3" stroke-linejoin="round" />
</g>
<rect x="1464.7" y="291.8" width="22.5" height="64.5" fill="url(#p1)"/>
<rect x="1464.8" y="355.9" width="128" height="126.7" fill="#fe2c2c"/>
<rect x="1592.1" y="461" width="63.7" height="21.7" fill="url(#p2)"/>
<circle cx="1490.4" cy="381.3" r="7.4" fill="#1212ee"/>
<circle cx="1504.1" cy="384.2" r="1.25" fill="#fff4d4"/>
<circle cx="1502.1" cy="389.2" r="1.25" fill="#fff4d4"/>
<circle cx="1498.2" cy="393.1" r="1.25" fill="#fff4d4"/>
<circle cx="1493.2" cy="395.2" r="1.25" fill="#fff4d4"/>
<circle cx="1487.7" cy="395.2" r="1.25" fill="#fff4d4"/>
<circle cx="1482.7" cy="393.2" r="1.25" fill="#fff4d4"/>
<circle cx="1478.8" cy="389.3" r="1.25" fill="#fff4d4"/>
<circle cx="1476.7" cy="384.3" r="1.25" fill="#fff4d4"/>
<circle cx="1476.7" cy="378.8" r="1.25" fill="#fff4d4"/>
<circle cx="1478.7" cy="373.8" r="1.25" fill="#fff4d4"/>
<circle cx="1482.6" cy="369.9" r="1.25" fill="#fff4d4"/>
<circle cx="1487.6" cy="367.8" r="1.25" fill="#fff4d4"/>
<circle cx="1493.1" cy="367.8" r="1.25" fill="#fff4d4"/>
<circle cx="1498.1" cy="369.8" r="1.25" fill="#fff4d4"/>
<circle cx="1502.0" cy="373.7" r="1.25" fill="#fff4d4"/>
<circle cx="1504.1" cy="378.7" r="1.25" fill="#fff4d4"/>
<circle cx="1574.8" cy="422.2" r="1.25" fill="#fff4d4"/>
<circle cx="1572.7" cy="427.5" r="1.25" fill="#fff4d4"/>
<circle cx="1568.7" cy="431.5" r="1.25" fill="#fff4d4"/>
<circle cx="1563.4" cy="433.7" r="1.25" fill="#fff4d4"/>
<circle cx="1557.7" cy="433.7" r="1.25" fill="#fff4d4"/>
<circle cx="1552.4" cy="431.6" r="1.25" fill="#fff4d4"/>
<circle cx="1548.4" cy="427.6" r="1.25" fill="#fff4d4"/>
<circle cx="1546.2" cy="422.3" r="1.25" fill="#fff4d4"/>
<circle cx="1546.2" cy="416.6" r="1.25" fill="#fff4d4"/>
<circle cx="1548.3" cy="411.3" r="1.25" fill="#fff4d4"/>
<circle cx="1552.3" cy="407.3" r="1.25" fill="#fff4d4"/>
<circle cx="1557.6" cy="405.1" r="1.25" fill="#fff4d4"/>
<circle cx="1563.3" cy="405.1" r="1.25" fill="#fff4d4"/>
<circle cx="1568.6" cy="407.2" r="1.25" fill="#fff4d4"/>
<circle cx="1572.6" cy="411.2" r="1.25" fill="#fff4d4"/>
<circle cx="1574.8" cy="416.5" r="1.25" fill="#fff4d4"/>
<circle cx="1536.5" cy="454.0" r="1.25" fill="#fff4d4"/>
<circle cx="1534.4" cy="459.3" r="1.25" fill="#fff4d4"/>
<circle cx="1530.4" cy="463.3" r="1.25" fill="#fff4d4"/>
<circle cx="1525.1" cy="465.5" r="1.25" fill="#fff4d4"/>
<circle cx="1519.4" cy="465.5" r="1.25" fill="#fff4d4"/>
<circle cx="1514.1" cy="463.4" r="1.25" fill="#fff4d4"/>
<circle cx="1510.1" cy="459.4" r="1.25" fill="#fff4d4"/>
<circle cx="1507.9" cy="454.1" r="1.25" fill="#fff4d4"/>
<circle cx="1507.9" cy="448.4" r="1.25" fill="#fff4d4"/>
<circle cx="1510.0" cy="443.1" r="1.25" fill="#fff4d4"/>
<circle cx="1514.0" cy="439.1" r="1.25" fill="#fff4d4"/>
<circle cx="1519.3" cy="436.9" r="1.25" fill="#fff4d4"/>
<circle cx="1525.0" cy="436.9" r="1.25" fill="#fff4d4"/>
<circle cx="1530.3" cy="439.0" r="1.25" fill="#fff4d4"/>
<circle cx="1534.3" cy="443.0" r="1.25" fill="#fff4d4"/>
<circle cx="1536.5" cy="448.3" r="1.25" fill="#fff4d4"/>
<rect x="1611.5" y="307.4" width="12.5" height="86.8" fill="url(#cb)"/>
<text x="1627.5" y="324.3" font-size="30" text-anchor="start" >1</text>
<text x="1625.0" y="399.0" font-size="30" text-anchor="start" >-1</text>
<polygon points="1495.5,292.6 1495.5,332.0 1490.0,332.0 1501.5,343.5 1513.0,332.0 1507.5,332.0 1507.5,292.6" fill="#e8e8e8" stroke="#000" stroke-width="2.3" stroke-linejoin="miter"/>
<polygon points="1601.0,446.6 1641.1,446.6 1641.1,452.0 1652.6,440.7 1641.1,429.4 1641.1,434.8 1601.0,434.8" fill="#e8e8e8" stroke="#000" stroke-width="2.3" stroke-linejoin="miter"/>
<rect x="1083.6" y="8.0" width="665.1" height="488.5" fill="none" stroke="#000" stroke-width="1.8"/><path d="M1125.4,8.0 v10.2 M1125.4,496.5 v-10.2 M1291.7,8.0 v10.2 M1291.7,496.5 v-10.2 M1458.1,8.0 v10.2 M1458.1,496.5 v-10.2 M1624.4,8.0 v10.2 M1624.4,496.5 v-10.2 M1208.6,8.0 v5.6 M1208.6,496.5 v-5.6 M1374.9,8.0 v5.6 M1374.9,496.5 v-5.6 M1541.2,8.0 v5.6 M1541.2,496.5 v-5.6 M1707.6,8.0 v5.6 M1707.6,496.5 v-5.6 M1083.6,29.5 h10.6 M1748.7,29.5 h-10.6 M1083.6,118.3 h10.6 M1748.7,118.3 h-10.6 M1083.6,207.3 h10.6 M1748.7,207.3 h-10.6 M1083.6,296.2 h10.6 M1748.7,296.2 h-10.6 M1083.6,384.9 h10.6 M1748.7,384.9 h-10.6 M1083.6,473.8 h10.6 M1748.7,473.8 h-10.6 M1083.6,73.9 h5.8 M1748.7,73.9 h-5.8 M1083.6,162.8 h5.8 M1748.7,162.8 h-5.8 M1083.6,251.7 h5.8 M1748.7,251.7 h-5.8 M1083.6,340.6 h5.8 M1748.7,340.6 h-5.8 M1083.6,429.3 h5.8 M1748.7,429.3 h-5.8 " stroke="#000" stroke-width="1.8" fill="none"/>
<text x="1125.4" y="531.4" font-size="31" text-anchor="middle" >2.4998</text>
<text x="1291.7" y="531.4" font-size="31" text-anchor="middle" >2.5000</text>
<text x="1458.1" y="531.4" font-size="31" text-anchor="middle" >2.5002</text>
<text x="1624.4" y="531.4" font-size="31" text-anchor="middle" >2.5004</text>
<text x="1072.0" y="38.9" font-size="31" text-anchor="end" >1.0</text>
<text x="1072.0" y="127.7" font-size="31" text-anchor="end" >0.8</text>
<text x="1072.0" y="216.7" font-size="31" text-anchor="end" >0.6</text>
<text x="1072.0" y="305.6" font-size="31" text-anchor="end" >0.4</text>
<text x="1072.0" y="394.3" font-size="31" text-anchor="end" >0.2</text>
<text x="1072.0" y="483.2" font-size="31" text-anchor="end" >0.0</text>
<text x="1417.4" y="577.9" font-size="31.7" text-anchor="middle" >Frequency (GHz)</text>
<text font-size="32" text-anchor="middle" transform="translate(988.5,239.7) rotate(-90)">|S<tspan font-size="19" dy="10.9">21</tspan><tspan dy="-10.9">|</tspan></text>
<text x="957.5" y="40.7" font-size="56" text-anchor="start" font-weight="bold">b</text>
</g>
<g id="panel-d">
<rect x="1290.3" y="656.7" width="166.3" height="489.9" fill="#ebebeb"/>
<clipPath id="clipd"><rect x="1081.4" y="656.7" width="667.4" height="489.9"/></clipPath>
<g clip-path="url(#clipd)">
<path d="M1080.0,778.7 C1081.7,779.1 1086.8,780.6 1090.0,781.2 C1093.2,781.9 1093.0,782.9 1099.5,782.6 C1106.0,782.3 1117.3,780.9 1128.7,779.6 C1140.1,778.3 1154.7,776.4 1167.7,774.8 C1180.7,773.2 1194.4,771.5 1206.7,769.9 C1219.0,768.3 1232.7,767.1 1241.8,765.0 C1250.9,762.9 1254.8,758.7 1261.3,757.2 C1267.8,755.8 1275.9,757.1 1280.8,756.3 C1285.7,755.5 1286.0,754.5 1290.5,752.4 C1295.0,750.3 1302.2,747.4 1308.1,743.6 C1313.9,739.9 1320.1,735.4 1325.6,729.9 C1331.1,724.4 1336.7,716.9 1341.2,710.4 C1345.8,703.9 1349.3,697.1 1352.9,690.9 C1356.5,684.7 1360.1,677.4 1362.7,673.4 C1365.3,669.4 1366.5,668.2 1368.5,666.6 C1370.5,665.0 1372.5,663.7 1374.4,663.6 C1376.4,663.5 1377.9,664.0 1380.2,666.0 C1382.5,668.0 1384.8,670.2 1388.0,675.3 C1391.2,680.4 1395.8,690.0 1399.7,696.8 C1403.6,703.6 1407.5,711.2 1411.4,716.3 C1415.3,721.4 1418.4,723.7 1423.1,727.6 C1427.8,731.5 1434.2,736.5 1439.8,739.9 C1445.3,743.3 1448.1,745.5 1456.4,748.2 C1464.7,750.9 1477.4,753.8 1489.7,756.0 C1502.0,758.2 1511.6,759.7 1530.0,761.5 C1548.4,763.3 1575.0,765.4 1600.0,767.0 C1625.0,768.6 1654.7,770.0 1680.0,771.0 C1705.3,772.0 1740.0,772.8 1752.0,773.2" fill="none" stroke="#fb0d0d" stroke-width="3.0" stroke-linejoin="round" />
<path d="M1080.0,772.8 C1089.8,772.3 1119.0,771.0 1138.5,769.9 C1158.0,768.8 1179.8,767.4 1197.0,766.0 C1214.2,764.6 1231.1,763.1 1241.8,761.5 C1252.5,759.9 1254.8,757.5 1261.3,756.5 C1267.8,755.5 1275.9,756.0 1280.8,755.3 C1285.7,754.6 1286.0,754.3 1290.5,752.4 C1295.0,750.5 1302.2,747.4 1308.1,743.8 C1313.9,740.2 1320.1,736.3 1325.6,730.9 C1331.1,725.5 1336.7,717.9 1341.2,711.4 C1345.8,704.9 1349.3,698.1 1352.9,691.9 C1356.5,685.7 1360.1,678.1 1362.7,674.0 C1365.3,669.9 1366.5,668.7 1368.5,667.0 C1370.5,665.3 1372.5,663.7 1374.4,663.6 C1376.4,663.5 1377.9,664.3 1380.2,666.4 C1382.5,668.5 1384.8,670.7 1388.0,676.0 C1391.2,681.3 1395.8,691.0 1399.7,698.0 C1403.6,705.0 1407.5,712.7 1411.4,718.0 C1415.3,723.3 1418.4,725.8 1423.1,730.0 C1427.8,734.2 1434.2,739.4 1439.8,743.0 C1445.3,746.6 1448.1,748.6 1456.4,751.5 C1464.7,754.4 1477.4,758.1 1489.7,760.3 C1502.0,762.5 1511.6,763.2 1530.0,764.8 C1548.4,766.4 1575.0,768.5 1600.0,770.0 C1625.0,771.5 1654.7,772.7 1680.0,773.6 C1705.3,774.5 1740.0,775.1 1752.0,775.4" fill="none" stroke="#ffc000" stroke-width="3.0" stroke-linejoin="round" stroke-dasharray="7 3.4"/>
<path d="M1080.0,900.0 C1083.3,900.2 1093.5,900.9 1100.0,901.2 C1106.5,901.5 1109.3,902.1 1119.0,901.9 C1128.7,901.7 1145.0,900.8 1158.0,900.0 C1171.0,899.2 1184.0,898.2 1197.0,897.4 C1210.0,896.6 1227.5,895.5 1236.0,895.1 C1244.5,894.7 1243.5,894.8 1247.7,895.1 C1251.9,895.4 1256.8,897.5 1261.3,897.0 C1265.8,896.5 1270.1,894.0 1275.0,892.2 C1279.9,890.4 1284.0,888.4 1290.5,886.3 C1297.0,884.2 1306.8,882.3 1313.9,879.5 C1321.1,876.7 1327.9,873.5 1333.4,869.7 C1338.9,865.9 1343.2,862.1 1347.1,856.7 C1351.0,851.3 1353.9,845.0 1356.8,837.2 C1359.7,829.4 1362.3,817.9 1364.6,809.9 C1366.9,801.9 1368.9,793.4 1370.5,789.0 C1372.1,784.6 1372.9,783.3 1374.4,783.5 C1375.9,783.7 1377.7,786.0 1379.3,790.4 C1380.9,794.8 1382.0,802.8 1384.1,809.9 C1386.2,817.0 1389.0,825.9 1391.9,833.0 C1394.8,840.1 1398.7,847.8 1401.7,852.8 C1404.7,857.8 1406.2,859.6 1409.8,863.0 C1413.4,866.4 1418.1,870.0 1423.1,873.0 C1428.1,876.0 1434.2,878.8 1439.8,880.7 C1445.3,882.7 1448.1,883.4 1456.4,884.7 C1464.7,886.0 1477.4,887.0 1489.7,888.3 C1502.0,889.6 1511.6,891.2 1530.0,892.3 C1548.4,893.4 1575.0,894.2 1600.0,895.0 C1625.0,895.8 1654.7,896.4 1680.0,896.8 C1705.3,897.2 1740.0,897.5 1752.0,897.6" fill="none" stroke="#fb0d0d" stroke-width="3.0" stroke-linejoin="round" />
<path d="M1080.0,897.4 C1093.0,897.3 1132.0,897.4 1158.0,896.7 C1184.0,896.1 1218.8,894.2 1236.0,893.5 C1253.2,892.8 1254.8,892.7 1261.3,892.2 C1267.8,891.7 1270.1,891.4 1275.0,890.5 C1279.9,889.6 1284.0,888.5 1290.5,886.8 C1297.0,885.1 1306.8,883.0 1313.9,880.5 C1321.1,878.0 1327.9,875.0 1333.4,871.5 C1338.9,868.0 1343.2,864.6 1347.1,859.5 C1351.0,854.4 1353.9,848.9 1356.8,841.0 C1359.7,833.1 1362.3,820.5 1364.6,812.0 C1366.9,803.5 1368.9,794.8 1370.5,790.0 C1372.1,785.2 1373.1,783.2 1374.4,783.5 C1375.7,783.8 1377.1,787.2 1378.5,792.0 C1379.9,796.8 1381.1,804.6 1383.0,812.0 C1384.9,819.4 1387.7,829.6 1389.9,836.4 C1392.1,843.2 1393.8,848.0 1396.0,853.0 C1398.2,858.0 1399.8,861.9 1403.2,866.4 C1406.6,870.9 1410.4,876.3 1416.5,879.7 C1422.6,883.1 1430.4,885.1 1439.8,887.0 C1449.2,888.9 1458.1,890.0 1473.1,891.3 C1488.1,892.6 1508.8,893.8 1530.0,894.7 C1551.2,895.7 1575.0,896.4 1600.0,897.0 C1625.0,897.6 1654.7,898.2 1680.0,898.6 C1705.3,899.0 1740.0,899.3 1752.0,899.4" fill="none" stroke="#ffc000" stroke-width="3.0" stroke-linejoin="round" stroke-dasharray="7 3.4"/>
<polyline points="1080.0,1020.1 1086.0,1020.1 1092.0,1020.0 1098.0,1020.0 1104.0,1020.0 1110.0,1020.0 1116.0,1019.9 1122.0,1019.9 1128.0,1019.9 1134.0,1019.9 1140.0,1019.8 1146.0,1019.8 1152.0,1019.8 1158.0,1019.7 1164.0,1019.7 1170.0,1019.7 1176.0,1019.6 1182.0,1019.6 1188.0,1019.5 1194.0,1019.5 1200.0,1019.4 1206.0,1019.4 1212.0,1019.3 1218.0,1019.2 1224.0,1019.2 1230.0,1019.1 1236.0,1019.0 1242.0,1018.9 1248.0,1018.8 1254.0,1018.7 1260.0,1018.6 1266.0,1018.4 1272.0,1018.3 1278.0,1018.1 1284.0,1017.9 1290.0,1017.7 1296.0,1017.4 1302.0,1017.1 1308.0,1016.8 1314.0,1016.4 1320.0,1015.8 1326.0,1015.2 1332.0,1014.3 1338.0,1013.1 1339.0,1012.9 1340.0,1012.6 1341.0,1012.4 1342.0,1012.1 1343.0,1011.8 1344.0,1011.5 1345.0,1011.1 1346.0,1010.8 1347.0,1010.4 1348.0,1009.9 1349.0,1009.5 1350.0,1008.9 1351.0,1008.4 1352.0,1007.8 1353.0,1007.1 1354.0,1006.4 1355.0,1005.5 1356.0,1004.6 1357.0,1003.6 1358.0,1002.4 1359.0,1001.0 1360.0,999.5 1361.0,997.7 1361.2,997.2 1361.5,996.7 1361.8,996.1 1362.0,995.5 1362.2,995.0 1362.5,994.3 1362.8,993.7 1363.0,993.0 1363.2,992.3 1363.5,991.5 1363.8,990.7 1364.0,989.9 1364.2,989.0 1364.5,988.1 1364.8,987.1 1365.0,986.1 1365.2,985.0 1365.5,983.8 1365.8,982.6 1366.0,981.3 1366.2,979.8 1366.5,978.3 1366.8,976.7 1367.0,975.0 1367.2,973.2 1367.5,971.2 1367.8,969.1 1368.0,966.8 1368.2,964.3 1368.5,961.7 1368.8,958.8 1369.0,955.7 1369.2,952.4 1369.5,948.8 1369.8,945.0 1370.0,941.0 1370.2,936.7 1370.5,932.2 1370.8,927.7 1371.0,923.2 1371.2,918.9 1371.5,915.0 1371.8,911.7 1372.0,909.3 1372.2,908.0 1372.5,907.5 1372.8,908.6 1373.0,910.8 1373.2,913.9 1373.5,917.7 1373.8,921.9 1374.0,926.4 1374.2,930.9 1374.5,935.4 1374.8,939.7 1375.0,943.8 1375.2,947.7 1375.5,951.3 1375.8,954.7 1376.0,957.8 1376.2,960.7 1376.5,963.4 1376.8,965.9 1377.0,968.2 1377.2,970.4 1377.5,972.4 1377.8,974.3 1378.0,976.0 1378.2,977.6 1378.5,979.2 1378.8,980.6 1379.0,981.9 1379.2,983.2 1379.5,984.4 1379.8,985.5 1380.0,986.5 1380.2,987.5 1380.5,988.4 1380.8,989.3 1381.0,990.2 1381.2,991.0 1381.5,991.7 1381.8,992.5 1382.0,993.1 1382.2,993.8 1382.5,994.4 1382.8,995.0 1383.0,995.6 1383.2,996.2 1383.5,996.7 1383.8,997.2 1384.0,997.7 1384.2,998.1 1384.5,998.6 1385.5,1000.2 1386.5,1001.6 1387.5,1002.8 1388.5,1003.9 1389.5,1004.9 1390.5,1005.7 1391.5,1006.5 1392.5,1007.2 1393.5,1007.8 1394.5,1008.4 1395.5,1008.9 1396.5,1009.4 1397.5,1009.8 1398.5,1010.2 1399.5,1010.6 1400.5,1011.0 1401.5,1011.3 1402.5,1011.6 1403.5,1011.9 1404.5,1012.2 1405.5,1012.4 1406.5,1012.7 1407.5,1012.9 1408.5,1013.1 1409.5,1013.3 1410.5,1013.5 1411.5,1013.7 1412.5,1013.8 1418.5,1014.7 1424.5,1015.4 1430.5,1015.9 1436.5,1016.4 1442.5,1016.7 1448.5,1017.0 1454.5,1017.3 1460.5,1017.5 1466.5,1017.7 1472.5,1017.9 1478.5,1018.0 1484.5,1018.2 1490.5,1018.3 1496.5,1018.4 1502.5,1018.5 1508.5,1018.6 1514.5,1018.7 1520.5,1018.8 1526.5,1018.8 1532.5,1018.9 1538.5,1019.0 1544.5,1019.0 1550.5,1019.1 1556.5,1019.1 1562.5,1019.2 1568.5,1019.2 1574.5,1019.3 1580.5,1019.3 1586.5,1019.3 1592.5,1019.4 1598.5,1019.4 1604.5,1019.4 1610.5,1019.5 1616.5,1019.5 1622.5,1019.5 1628.5,1019.5 1634.5,1019.6 1640.5,1019.6 1646.5,1019.6 1652.5,1019.6 1658.5,1019.7 1664.5,1019.7 1670.5,1019.7 1676.5,1019.7 1682.5,1019.7 1688.5,1019.7 1694.5,1019.8 1700.5,1019.8 1706.5,1019.8 1712.5,1019.8 1718.5,1019.8 1724.5,1019.8 1730.5,1019.8 1736.5,1019.9 1742.5,1019.9 1748.5,1019.9" fill="none" stroke="#fb0d0d" stroke-width="3.0" stroke-linejoin="round" />
<polyline points="1080.0,1020.7 1086.0,1020.6 1092.0,1020.6 1098.0,1020.6 1104.0,1020.6 1110.0,1020.6 1116.0,1020.6 1122.0,1020.6 1128.0,1020.5 1134.0,1020.5 1140.0,1020.5 1146.0,1020.5 1152.0,1020.5 1158.0,1020.5 1164.0,1020.4 1170.0,1020.4 1176.0,1020.4 1182.0,1020.4 1188.0,1020.3 1194.0,1020.3 1200.0,1020.3 1206.0,1020.2 1212.0,1020.2 1218.0,1020.1 1224.0,1020.1 1230.0,1020.0 1236.0,1020.0 1242.0,1019.9 1248.0,1019.9 1254.0,1019.8 1260.0,1019.7 1266.0,1019.6 1272.0,1019.5 1278.0,1019.4 1284.0,1019.2 1290.0,1019.1 1296.0,1018.9 1302.0,1018.7 1308.0,1018.4 1314.0,1018.0 1320.0,1017.6 1326.0,1016.9 1327.0,1016.8 1328.0,1016.7 1329.0,1016.6 1330.0,1016.4 1331.0,1016.3 1332.0,1016.1 1333.0,1015.9 1334.0,1015.7 1335.0,1015.5 1336.0,1015.3 1337.0,1015.1 1338.0,1014.8 1339.0,1014.5 1340.0,1014.2 1341.0,1013.9 1342.0,1013.5 1343.0,1013.1 1344.0,1012.6 1345.0,1012.1 1346.0,1011.5 1347.0,1010.9 1348.0,1010.1 1349.0,1009.3 1350.0,1008.3 1350.2,1008.0 1350.5,1007.7 1350.8,1007.4 1351.0,1007.1 1351.2,1006.8 1351.5,1006.4 1351.8,1006.0 1352.0,1005.7 1352.2,1005.3 1352.5,1004.8 1352.8,1004.4 1353.0,1003.9 1353.2,1003.4 1353.5,1002.9 1353.8,1002.3 1354.0,1001.7 1354.2,1001.1 1354.5,1000.4 1354.8,999.7 1355.0,998.9 1355.2,998.1 1355.5,997.2 1355.8,996.2 1356.0,995.2 1356.2,994.1 1356.5,992.8 1356.8,991.5 1357.0,990.0 1357.2,988.4 1357.5,986.6 1357.8,984.6 1358.0,982.4 1358.2,979.9 1358.5,977.2 1358.8,974.0 1359.0,970.4 1359.2,966.4 1359.5,961.7 1359.8,956.3 1360.0,950.1 1360.2,943.1 1360.5,935.2 1360.8,926.7 1361.0,918.2 1361.2,910.6 1361.5,905.6 1361.8,904.1 1362.0,907.0 1362.2,913.2 1362.5,921.4 1362.8,930.0 1363.0,938.3 1363.2,945.8 1363.5,952.5 1363.8,958.3 1364.0,963.4 1364.2,967.9 1364.5,971.7 1364.8,975.1 1365.0,978.1 1365.2,980.8 1365.5,983.1 1365.8,985.2 1366.0,987.1 1366.2,988.9 1366.5,990.4 1366.8,991.8 1367.0,993.1 1367.2,994.3 1367.5,995.4 1367.8,996.4 1368.0,997.4 1368.2,998.2 1368.5,999.0 1368.8,999.8 1369.0,1000.5 1369.2,1001.1 1369.5,1001.8 1369.8,1002.3 1370.0,1002.9 1370.2,1003.4 1370.5,1003.9 1370.8,1004.4 1371.0,1004.8 1371.2,1005.2 1371.5,1005.6 1371.8,1006.0 1372.0,1006.3 1372.2,1006.7 1372.5,1007.0 1372.8,1007.3 1373.0,1007.6 1373.2,1007.9 1373.5,1008.2 1373.8,1008.5 1374.8,1009.4 1375.8,1010.2 1376.8,1010.9 1377.8,1011.6 1378.8,1012.1 1379.8,1012.6 1380.8,1013.0 1381.8,1013.4 1382.8,1013.8 1383.8,1014.1 1384.8,1014.4 1385.8,1014.7 1386.8,1014.9 1387.8,1015.2 1388.8,1015.4 1389.8,1015.6 1390.8,1015.8 1391.8,1015.9 1392.8,1016.1 1393.8,1016.3 1394.8,1016.4 1395.8,1016.5 1396.8,1016.7 1397.8,1016.8 1398.8,1016.9 1399.8,1017.0 1400.8,1017.1 1401.8,1017.2 1407.8,1017.7 1413.8,1018.1 1419.8,1018.4 1425.8,1018.6 1431.8,1018.8 1437.8,1019.0 1443.8,1019.1 1449.8,1019.3 1455.8,1019.4 1461.8,1019.5 1467.8,1019.6 1473.8,1019.6 1479.8,1019.7 1485.8,1019.8 1491.8,1019.8 1497.8,1019.9 1503.8,1019.9 1509.8,1020.0 1515.8,1020.0 1521.8,1020.0 1527.8,1020.1 1533.8,1020.1 1539.8,1020.1 1545.8,1020.2 1551.8,1020.2 1557.8,1020.2 1563.8,1020.2 1569.8,1020.3 1575.8,1020.3 1581.8,1020.3 1587.8,1020.3 1593.8,1020.3 1599.8,1020.4 1605.8,1020.4 1611.8,1020.4 1617.8,1020.4 1623.8,1020.4 1629.8,1020.4 1635.8,1020.4 1641.8,1020.5 1647.8,1020.5 1653.8,1020.5 1659.8,1020.5 1665.8,1020.5 1671.8,1020.5 1677.8,1020.5 1683.8,1020.5 1689.8,1020.5 1695.8,1020.5 1701.8,1020.6 1707.8,1020.6 1713.8,1020.6 1719.8,1020.6 1725.8,1020.6 1731.8,1020.6 1737.8,1020.6 1743.8,1020.6 1749.8,1020.6" fill="none" stroke="#ffc000" stroke-width="3.0" stroke-linejoin="round" stroke-dasharray="7 3.4"/>
<polyline points="1080.0,1141.3 1752.0,1141.3" fill="none" stroke="#fb0d0d" stroke-width="3.0" stroke-linejoin="round" />
<polyline points="1080.0,1141.3 1752.0,1141.3" fill="none" stroke="#ffc000" stroke-width="3.0" stroke-linejoin="round" stroke-dasharray="8.7 5.7" stroke-dashoffset="-4"/>
</g>
<rect x="1512.4" y="667.1" width="83.1" height="83.1" fill="#fff" stroke="#000" stroke-width="1.6"/>
<rect x="1600.4" y="667.1" width="83.0" height="83.1" fill="#fff" stroke="#000" stroke-width="1.6"/>
<circle cx="1529.5" cy="684.6" r="6.2" fill="url(#rb)" opacity="0.85"/><circle cx="1529.5" cy="684.6" r="9.6" fill="none" stroke="#cccccc" stroke-width="1" stroke-dasharray="1.5 1.5"/>
<circle cx="1573.9" cy="708.6" r="6.2" fill="url(#rb)" opacity="1"/><circle cx="1573.9" cy="708.6" r="9.6" fill="none" stroke="#cccccc" stroke-width="1" stroke-dasharray="1.5 1.5"/>
<circle cx="1549.9" cy="729.4" r="6.2" fill="url(#rr)" opacity="1"/><circle cx="1549.9" cy="729.4" r="9.6" fill="none" stroke="#cccccc" stroke-width="1" stroke-dasharray="1.5 1.5"/>
<circle cx="1617.4" cy="684.3" r="6.2" fill="url(#rb)" opacity="1"/><circle cx="1617.4" cy="684.3" r="9.6" fill="none" stroke="#cccccc" stroke-width="1" stroke-dasharray="1.5 1.5"/>
<circle cx="1617.4" cy="732.6" r="6.2" fill="url(#rr)" opacity="1"/><circle cx="1617.4" cy="732.6" r="9.6" fill="none" stroke="#cccccc" stroke-width="1" stroke-dasharray="1.5 1.5"/>
<circle cx="1666.2" cy="732.6" r="6.2" fill="url(#rb)" opacity="1"/><circle cx="1666.2" cy="732.6" r="9.6" fill="none" stroke="#cccccc" stroke-width="1" stroke-dasharray="1.5 1.5"/>
<text x="1578.5" y="688.0" font-size="23" text-anchor="start" >1</text>
<text x="1664.0" y="688.5" font-size="23" text-anchor="start" >2</text>
<rect x="1689.4" y="668.5" width="9" height="79.7" fill="url(#cb)"/>
<text x="1701.2" y="681.3" font-size="22.3" text-anchor="start" >160</text>
<text x="1700.2" y="750.4" font-size="22.3" text-anchor="start" >-160</text>
<rect x="1512.4" y="800.8" width="83.1" height="82.6" fill="#fff" stroke="#000" stroke-width="1.6"/>
<rect x="1600.4" y="800.8" width="83.0" height="82.6" fill="#fff" stroke="#000" stroke-width="1.6"/>
<circle cx="1529.5" cy="818.3" r="6.2" fill="url(#rb)" opacity="0.5"/><circle cx="1529.5" cy="818.3" r="9.6" fill="none" stroke="#cccccc" stroke-width="1" stroke-dasharray="1.5 1.5"/>
<circle cx="1573.9" cy="842.3" r="6.2" fill="url(#rb)" opacity="1"/><circle cx="1573.9" cy="842.3" r="9.6" fill="none" stroke="#cccccc" stroke-width="1" stroke-dasharray="1.5 1.5"/>
<circle cx="1549.9" cy="863.1" r="6.2" fill="url(#rr)" opacity="1"/><circle cx="1549.9" cy="863.1" r="9.6" fill="none" stroke="#cccccc" stroke-width="1" stroke-dasharray="1.5 1.5"/>
<circle cx="1617.4" cy="818.0" r="6.2" fill="url(#rb)" opacity="0.6"/><circle cx="1617.4" cy="818.0" r="9.6" fill="none" stroke="#cccccc" stroke-width="1" stroke-dasharray="1.5 1.5"/>
<circle cx="1617.4" cy="866.3" r="6.2" fill="url(#rr)" opacity="1"/><circle cx="1617.4" cy="866.3" r="9.6" fill="none" stroke="#cccccc" stroke-width="1" stroke-dasharray="1.5 1.5"/>
<circle cx="1666.2" cy="866.3" r="6.2" fill="url(#rb)" opacity="1"/><circle cx="1666.2" cy="866.3" r="9.6" fill="none" stroke="#cccccc" stroke-width="1" stroke-dasharray="1.5 1.5"/>
<text x="1578.5" y="821.7" font-size="23" text-anchor="start" >1</text>
<text x="1664.0" y="822.2" font-size="23" text-anchor="start" >2</text>
<rect x="1689.4" y="802.2" width="9" height="79.2" fill="url(#cb)"/>
<text x="1701.2" y="815.0" font-size="22.3" text-anchor="start" >250</text>
<text x="1700.2" y="884.1" font-size="22.3" text-anchor="start" >-250</text>
<rect x="1512.4" y="927.9" width="83.1" height="82.9" fill="#fff" stroke="#000" stroke-width="1.6"/>
<rect x="1599.0" y="927.9" width="83.0" height="82.9" fill="#fff" stroke="#000" stroke-width="1.6"/>
<circle cx="1529.5" cy="945.4" r="6.2" fill="url(#rb)" opacity="0.18"/><circle cx="1529.5" cy="945.4" r="9.6" fill="none" stroke="#cccccc" stroke-width="1" stroke-dasharray="1.5 1.5"/>
<circle cx="1573.9" cy="969.4" r="6.2" fill="url(#rb)" opacity="1"/><circle cx="1573.9" cy="969.4" r="9.6" fill="none" stroke="#cccccc" stroke-width="1" stroke-dasharray="1.5 1.5"/>
<circle cx="1549.9" cy="990.2" r="6.2" fill="url(#rr)" opacity="1"/><circle cx="1549.9" cy="990.2" r="9.6" fill="none" stroke="#cccccc" stroke-width="1" stroke-dasharray="1.5 1.5"/>
<circle cx="1616.0" cy="945.1" r="6.2" fill="url(#rb)" opacity="0.22"/><circle cx="1616.0" cy="945.1" r="9.6" fill="none" stroke="#cccccc" stroke-width="1" stroke-dasharray="1.5 1.5"/>
<circle cx="1616.0" cy="993.4" r="6.2" fill="url(#rr)" opacity="1"/><circle cx="1616.0" cy="993.4" r="9.6" fill="none" stroke="#cccccc" stroke-width="1" stroke-dasharray="1.5 1.5"/>
<circle cx="1664.8" cy="993.4" r="6.2" fill="url(#rb)" opacity="1"/><circle cx="1664.8" cy="993.4" r="9.6" fill="none" stroke="#cccccc" stroke-width="1" stroke-dasharray="1.5 1.5"/>
<text x="1578.5" y="948.8" font-size="23" text-anchor="start" >1</text>
<text x="1662.6" y="949.3" font-size="23" text-anchor="start" >2</text>
<rect x="1689.4" y="929.3" width="9" height="79.5" fill="url(#cb)"/>
<text x="1701.2" y="942.1" font-size="22.3" text-anchor="start" >520</text>
<text x="1700.2" y="1011.2" font-size="22.3" text-anchor="start" >-520</text>
<rect x="1526.3" y="1057.4" width="202.8" height="59.4" fill="#fff" stroke="#000" stroke-width="1.4"/>
<polyline points="1533.7,1073.6 1586.8,1073.6" fill="none" stroke="#fb0d0d" stroke-width="2.8" stroke-linejoin="round" />
<polyline points="1533.7,1102.8 1586.8,1102.8" fill="none" stroke="#ffc000" stroke-width="2.8" stroke-linejoin="round" stroke-dasharray="6.2 3.2"/>
<text x="1591.5" y="1080.3" font-size="22.6" text-anchor="start" >Distribution 1</text>
<text x="1591.5" y="1109.5" font-size="22.6" text-anchor="start" >Distribution 2</text>
<text y="754.2" font-size="28"><tspan class="ser" font-size="30" x="1085.6">α</tspan><tspan x="1112.5">=</tspan><tspan x="1137.2">6.4</tspan><tspan x="1182.3">×</tspan><tspan x="1202.6">10</tspan><tspan font-size="15" dy="-13" x="1235.1">−3</tspan></text>
<text y="877.9" font-size="28"><tspan class="ser" font-size="30" x="1087.4">α</tspan><tspan x="1114.3">=</tspan><tspan x="1139.0">4.0</tspan><tspan x="1184.1">×</tspan><tspan x="1204.4">10</tspan><tspan font-size="15" dy="-13" x="1236.9">−3</tspan></text>
<text y="1005.6" font-size="28"><tspan class="ser" font-size="30" x="1091.2">α</tspan><tspan x="1118.1">=</tspan><tspan x="1140.9">1.5</tspan><tspan x="1187.9">×</tspan><tspan x="1208.2">10</tspan><tspan font-size="15" dy="-13" x="1240.7">−3</tspan></text>
<text y="1125.0" font-size="28"><tspan class="ser" font-size="30" x="1087.4">α</tspan><tspan x="1114.3">=</tspan><tspan x="1139.0">0</tspan></text>
<rect x="1081.4" y="656.7" width="667.4" height="489.9" fill="none" stroke="#000" stroke-width="1.8"/><path d="M1122.8,656.7 v10.2 M1122.8,1146.6 v-10.2 M1290.3,656.7 v10.2 M1290.3,1146.6 v-10.2 M1456.6,656.7 v10.2 M1456.6,1146.6 v-10.2 M1624.2,656.7 v10.2 M1624.2,1146.6 v-10.2 M1206.5,656.7 v5.6 M1206.5,1146.6 v-5.6 M1373.4,656.7 v5.6 M1373.4,1146.6 v-5.6 M1540.6,656.7 v5.6 M1540.6,1146.6 v-5.6 M1707.6,656.7 v5.6 M1707.6,1146.6 v-5.6 M1081.4,662.6 h10.6 M1748.8,662.6 h-10.6 M1081.4,781.9 h10.6 M1748.8,781.9 h-10.6 M1081.4,901.6 h10.6 M1748.8,901.6 h-10.6 M1081.4,1021.2 h10.6 M1748.8,1021.2 h-10.6 M1081.4,1141.3 h10.6 M1748.8,1141.3 h-10.6 M1081.4,722.7 h5.8 M1748.8,722.7 h-5.8 M1081.4,841.8 h5.8 M1748.8,841.8 h-5.8 M1081.4,961.5 h5.8 M1748.8,961.5 h-5.8 M1081.4,1081.0 h5.8 M1748.8,1081.0 h-5.8 " stroke="#000" stroke-width="1.8" fill="none"/>
<text x="1122.8" y="1182.8" font-size="31" text-anchor="middle" >2.4998</text>
<text x="1290.3" y="1182.8" font-size="31" text-anchor="middle" >2.5000</text>
<text x="1456.6" y="1182.8" font-size="31" text-anchor="middle" >2.5002</text>
<text x="1624.2" y="1182.8" font-size="31" text-anchor="middle" >2.5004</text>
<text x="1070.0" y="672.9" font-size="31" text-anchor="end" >4</text>
<text x="1070.0" y="792.2" font-size="31" text-anchor="end" >3</text>
<text x="1070.0" y="911.9" font-size="31" text-anchor="end" >2</text>
<text x="1070.0" y="1031.5" font-size="31" text-anchor="end" >1</text>
<text x="1070.0" y="1151.6" font-size="31" text-anchor="end" >0</text>
<text x="1416.1" y="1221.6" font-size="31.7" text-anchor="middle" >Frequency (GHz)</text>
<text font-size="32" text-anchor="middle" transform="translate(1021.2,890) rotate(-90)">|S<tspan font-size="19" dy="10.9">21</tspan><tspan dy="-10.9">|</tspan></text>
<text x="972.0" y="667.7" font-size="56" text-anchor="start" font-weight="bold">d</text>
</g>
</svg></body></html>
